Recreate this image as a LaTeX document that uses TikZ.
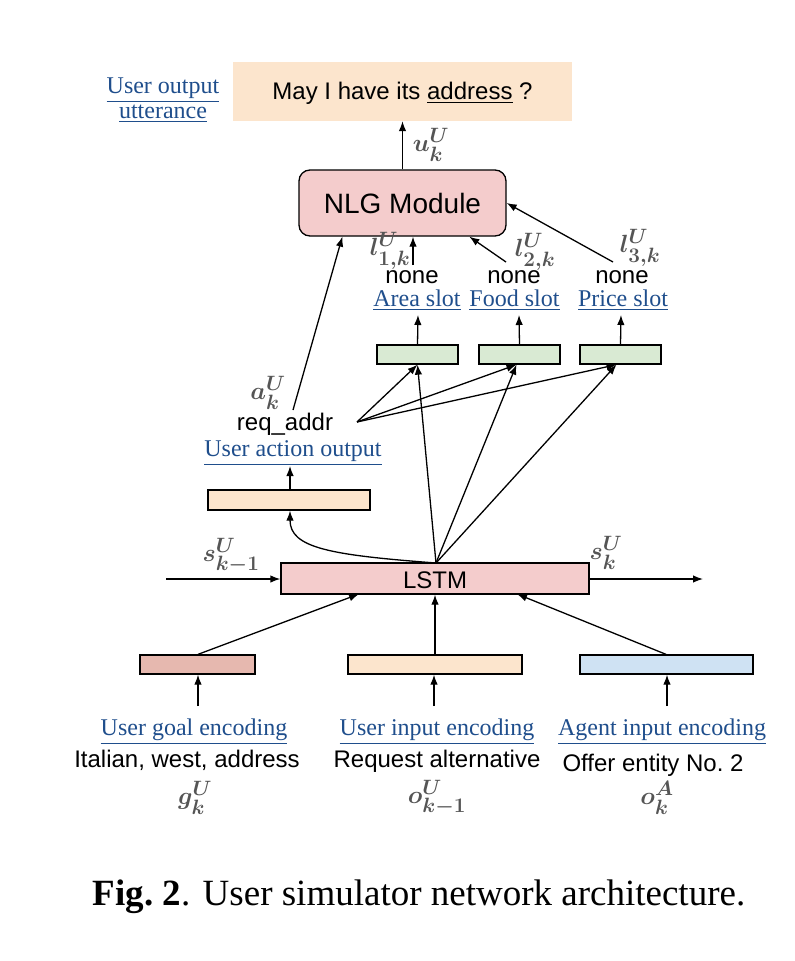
\documentclass[tikz,border=0pt]{standalone}
\usepackage{amsmath}
\usepackage{bm}
\usepackage{fontspec}
\setmainfont{Liberation Serif}
\newfontfamily\arialf{Liberation Sans}
\usetikzlibrary{arrows.meta,calc}
\definecolor{peach}{HTML}{FCE5CD}
\definecolor{pinkbox}{HTML}{F4CCCC}
\definecolor{greenbox}{HTML}{D9EAD3}
\definecolor{redbox}{HTML}{E6B8AF}
\definecolor{bluebox}{HTML}{CFE2F3}
\definecolor{linkblue}{HTML}{1F4E8C}
\definecolor{mathgray}{HTML}{555555}
\begin{document}
\begin{tikzpicture}[x=1pt,y=-1pt,
  vecbox/.style={draw=black, line width=1.3pt, inner sep=0pt},
  arr/.style={-{Latex[length=10pt,width=7.5pt]}, line width=1.3pt},
  link/.style={text=linkblue, font=\fontsize{24}{28}\selectfont, anchor=base, inner sep=0pt},
  sans/.style={font=\arialf\fontsize{24}{28}\selectfont, anchor=base, inner sep=0pt},
  mth/.style={text=mathgray, font=\fontsize{31}{31}\selectfont, inner sep=0pt}
]
\useasboundingbox (0,0) rectangle (795,961);

% top utterance box
\node[fill=peach, minimum width=339pt, minimum height=59pt, inner sep=0pt] (top) at (402.5,91.5) {};
\node[sans] (utt) at (402.5,99) {May I have its \underline{address} ?};
\node[link] (uo1) at (163,93) {\underline{User output}};
\node[link] (uo2) at (163,118) {\underline{utterance}};

% NLG module
\node[vecbox, fill=pinkbox, rounded corners=11pt, minimum width=207pt, minimum height=66pt] (nlg) at (402.5,203) {};
\node[font=\arialf\fontsize{28}{32}\selectfont, anchor=base, inner sep=0pt] (nlgt) at (402.5,213) {NLG Module};
\draw[arr] (nlg.north) -- (top.south);
\node[mth] (ulab) at (431,145) {$\bm{u_k^U}$};

% slot labels
\node[sans] (n1) at (412,283) {none};
\node[sans] (n2) at (514,283) {none};
\node[sans] (n3) at (622,283) {none};
\node[link] (s1) at (417,306) {\underline{Area slot}};
\node[link] (s2) at (514.5,306) {\underline{Food slot}};
\node[link] (s3) at (623,306) {\underline{Price slot}};
\node[mth] (l1) at (390,251) {$\bm{l^U_{1,k}}$};
\node[mth] (l2) at (535,252) {$\bm{l^U_{2,k}}$};
\node[mth] (l3) at (640,248) {$\bm{l^U_{3,k}}$};

\coordinate (l1s) at (413,265);
\coordinate (l2s) at (506,262);
\coordinate (l3s) at (613,262);
\draw[arr] (l1s) -- (l1s |- nlg.south);
\draw[arr] (l2s) -- ($(nlg.south west)+(171,0)$);
\draw[arr] (l3s) -- (nlg.east);

% green slot vectors
\node[vecbox, fill=greenbox, minimum width=81pt, minimum height=19pt] (g1) at (417.5,354.5) {};
\node[vecbox, fill=greenbox, minimum width=81pt, minimum height=19pt] (g2) at (519.5,354.5) {};
\node[vecbox, fill=greenbox, minimum width=81pt, minimum height=19pt] (g3) at (620.5,354.5) {};
\coordinate (s1b) at (418,315);
\coordinate (s2b) at (519,315);
\coordinate (s3b) at (621,315);
\draw[arr] (g1.north) -- (s1b);
\draw[arr] (g2.north) -- (s2b);
\draw[arr] (g3.north) -- (s3b);

% user action output
\node[mth] (alab) at (268,393) {$\bm{a_k^U}$};
\node[sans] (req) at (285,430) {req\_addr};
\node[link] (uao) at (293,456) {\underline{User action output}};
\node[vecbox, fill=peach, minimum width=162pt, minimum height=20pt] (ua) at (289,500) {};
\coordinate (uat) at (290,466);
\draw[arr] (ua.north -| uat) -- (uat);
\coordinate (astart) at (293,410);
\draw[arr] (astart) -- ($(nlg.south west)+(44,0)$);

% fan from req_addr
\coordinate (fs) at (357,422);
\coordinate (t1) at ($(g1.south)+(0,0)$);
\coordinate (t2) at ($(g2.south)+(-3,0)$);
\coordinate (t3) at ($(g3.south)+(-4,0)$);
\draw[arr] (fs) -- (t1);
\draw[arr] (fs) -- (t2);
\draw[arr] (fs) -- (t3);

% LSTM
\node[vecbox, fill=pinkbox, minimum width=308pt, minimum height=31pt] (lstm) at (435,578.5) {};
\node[sans] (lstmt) at (435,588) {LSTM};
\coordinate (lt) at (436,563);
\draw[arr] (lt) -- (t1);
\draw[arr] (lt) -- (t2);
\draw[arr] (lt) -- (t3);
\draw[arr] (lt) .. controls (330,555) and (290,548) .. (ua.south -| uat);

\coordinate (sin) at (166,579);
\coordinate (sout) at (703,579);
\draw[arr] (sin) -- (sin -| lstm.west);
\draw[arr] (sout -| lstm.east) -- (sout);
\node[mth] (sprev) at (231,556) {$\bm{s_{k-1}^U}$};
\node[mth] (snext) at (606,553) {$\bm{s_k^U}$};

% input vectors
\node[vecbox, fill=redbox, minimum width=115pt, minimum height=19pt] (b1) at (197.5,664.5) {};
\node[vecbox, fill=peach, minimum width=174pt, minimum height=19pt] (b2) at (435,664.5) {};
\node[vecbox, fill=bluebox, minimum width=173pt, minimum height=19pt] (b3) at (666.5,664.5) {};
\draw[arr] (b1.north -| 198,0) -- (359,594);
\draw[arr] (b2.north) -- (b2.north |- lstm.south);
\draw[arr] (b3.north -| 666,0) -- (517,594);

\coordinate (i1) at (198,706);
\coordinate (i2) at (434,706);
\coordinate (i3) at (667,706);
\draw[arr] (i1) -- (i1 |- b1.south);
\draw[arr] (i2) -- (i2 |- b2.south);
\draw[arr] (i3) -- (i3 |- b3.south);

\node[link] (e1) at (194,735) {\underline{User goal encoding}};
\node[link] (e2) at (437,735) {\underline{User input encoding}};
\node[link] (e3) at (662,735) {\underline{Agent input encoding}};
\node[sans] (x1) at (187,767) {Italian, west, address};
\node[sans] (x2) at (437,767) {Request alternative};
\node[sans] (x3) at (653,771) {Offer entity No.\ 2};
\node[mth] (m1) at (195,798) {$\bm{g_k^U}$};
\node[mth] (m2) at (437,798) {$\bm{o_{k-1}^U}$};
\node[mth] (m3) at (657,798) {$\bm{o_k^A}$};

% caption
\node[font=\fontsize{37}{44}\selectfont, anchor=base, inner sep=0pt] (cap) at (419,905) {\textbf{Fig.\ 2}. User simulator network architecture.};
\end{tikzpicture}
\end{document}
